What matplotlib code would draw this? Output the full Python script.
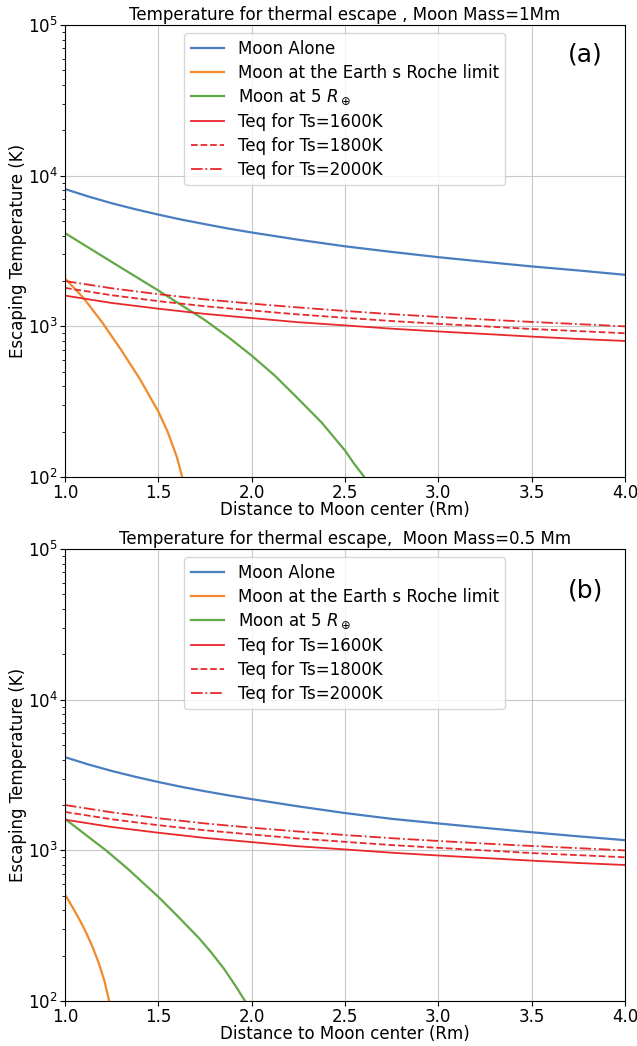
import matplotlib
matplotlib.use("Agg")
import matplotlib.pyplot as plt

# distance grid for the equilibrium curves (Rm)
r_grid = [1.0, 1.25, 1.5, 1.75, 2.0, 2.25, 2.5, 2.75, 3.0, 3.25, 3.5, 3.75, 4.0]

# equilibrium temperatures (same in both panels)
teq_1600 = [1600, 1430, 1310, 1210, 1135, 1065, 1015, 965, 925, 890, 855, 825, 800]
teq_1800 = [1800, 1610, 1470, 1360, 1275, 1200, 1140, 1085, 1040, 1000, 960, 930, 900]
teq_2000 = [2000, 1790, 1635, 1510, 1415, 1335, 1265, 1205, 1155, 1110, 1070, 1035, 1000]

# finer grid for the isolated-moon curves
r_alone = [1.0, 1.125, 1.25, 1.375, 1.5, 1.625, 1.75, 1.875, 2.0, 2.25, 2.5,
           2.75, 3.0, 3.25, 3.5, 3.75, 4.0]

# (a) Moon mass = 1 Mm
alone_a = [8160, 7280, 6570, 6000, 5520, 5110, 4770, 4460, 4200, 3760, 3400,
           3120, 2880, 2680, 2500, 2350, 2200]
roche_r_a = [1.0, 1.1, 1.2, 1.3, 1.4, 1.5, 1.55, 1.6, 1.628]
roche_a = [2080, 1540, 1060, 700, 450, 272, 200, 135, 100]
earth5_r_a = [1.0, 1.25, 1.5, 1.75, 1.875, 2.0, 2.125, 2.25, 2.375, 2.5, 2.55, 2.604]
earth5_a = [4160, 2680, 1730, 1100, 848, 640, 470, 330, 230, 150, 122, 100]

# (b) Moon mass = 0.5 Mm
alone_b = [4160, 3720, 3370, 3085, 2845, 2640, 2470, 2320, 2190, 1960, 1770,
           1620, 1510, 1410, 1320, 1240, 1170]
roche_r_b = [1.0, 1.05, 1.085, 1.116, 1.15, 1.18, 1.21, 1.237]
roche_b = [510, 400, 334, 280, 225, 180, 138, 100]
earth5_r_b = [1.0, 1.1, 1.22, 1.33, 1.5, 1.6, 1.72, 1.785, 1.85, 1.91, 1.965]
earth5_b = [1620, 1300, 1000, 767, 492, 370, 260, 209, 165, 128, 100]

titles = ["Temperature for thermal escape , Moon Mass=1Mm",
          "Temperature for thermal escape,  Moon Mass=0.5 Mm"]
tags = ["(a)", "(b)"]

c_blue = "#4a7cc0"
c_orange = "#f08a2c"
c_green = "#62a846"
c_red = "#e8282a"

fig = plt.figure(figsize=(6.37, 10.46), dpi=100)
ax_a = fig.add_axes([0.102, 0.544, 0.879, 0.432])
ax_b = fig.add_axes([0.102, 0.043, 0.879, 0.432])

panels = [
    (ax_a, alone_a, roche_r_a, roche_a, earth5_r_a, earth5_a, 0.934),
    (ax_b, alone_b, roche_r_b, roche_b, earth5_r_b, earth5_b, 0.909),
]

for i, (ax, alone, rr, roche, er, earth5, tag_y) in enumerate(panels):
    ax.plot(r_alone, alone, color=c_blue, lw=1.6, label="Moon Alone")
    ax.plot(rr, roche, color=c_orange, lw=1.6, label="Moon at the Earth s Roche limit")
    ax.plot(er, earth5, color=c_green, lw=1.6, label=r"Moon at 5 $R_\oplus$")
    ax.plot(r_grid, teq_1600, color=c_red, lw=1.3, ls="-", label="Teq for Ts=1600K")
    ax.plot(r_grid, teq_1800, color=c_red, lw=1.3, ls="--", label="Teq for Ts=1800K")
    ax.plot(r_grid, teq_2000, color=c_red, lw=1.3, ls="-.", label="Teq for Ts=2000K")

    ax.set_yscale("log")
    ax.set_xlim(1.0, 4.0)
    ax.set_ylim(1e2, 1e5)
    ax.grid(True, color="#c8c8c8", lw=0.8)
    ax.tick_params(labelsize=12, pad=1.5)
    ax.set_xlabel("Distance to Moon center (Rm)", fontsize=12, labelpad=-1)
    ax.set_ylabel("Escaping Temperature (K)", fontsize=12, labelpad=1)
    ax.set_title(titles[i], fontsize=12, pad=4)
    ax.legend(loc="upper center", fontsize=12, framealpha=0.8, labelspacing=0.35)
    ax.text(0.929, tag_y, tags[i], transform=ax.transAxes, fontsize=18,
            ha="center", va="center")

fig.savefig("out.png", dpi=100)
